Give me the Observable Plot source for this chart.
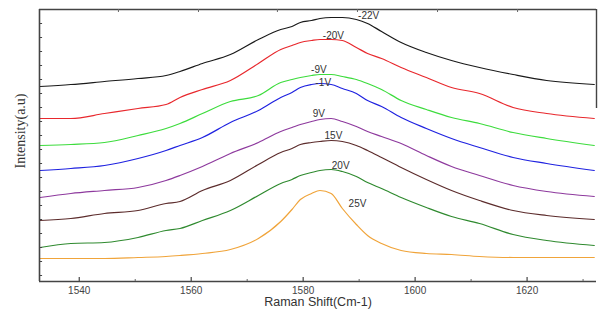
<!DOCTYPE html>
<html>
<head>
<meta charset="utf-8">
<script src="https://cdn.jsdelivr.net/npm/d3@7"></script>
<script src="https://cdn.jsdelivr.net/npm/@observablehq/plot@0.6"></script>
<style>
  html, body { margin: 0; padding: 0; background: #fff; }
  #chart { width: 601px; height: 321px; }
</style>
</head>
<body>
<div id="chart"></div>
<script>
// Raman shift positions (cm-1)
const shift = [1533, 1538.5, 1544.5, 1550.5, 1555.5, 1558, 1562, 1567, 1572, 1576, 1578, 1579.5, 1581.5,
               1583, 1585, 1587, 1589.5, 1591.5, 1594, 1597.5, 1602, 1606.5, 1611.5, 1617.5, 1623.5, 1632];

// Intensities (a.u., offset stack as in the figure)
const vM22 = [195,197,200,203,206,210,218,227,242,252,255,259,261,263,264,264,262,258,250,239,229,221,214,207,201,197];
const vM20 = [163,163,168,173,177,184,192,201,218,232,236,239,241,242,242,241,234,228,223,214,204,194,188,174,168,163];
const vM9  = [136,137,139,146,153,158,168,180,186,199,202,204,206,207,207,205,202,198,192,181,172,164,158,149,143,136];
const vM1  = [111,113,116,123,131,136,144,159,171,184,189,194,197,198,197,193,188,181,175,164,153,143,134,124,118,111];
const vP9  = [84,88,91,94,101,106,115,128,139,150,154,157,160,162,163,160,155,150,145,138,126,115,106,96,90,85];
const vP15 = [61,63,68,71,78,80,91,101,117,129,133,137,139,140,141,140,136,131,124,114,102,91,81,71,66,62];
const vP20 = [34,38,39,44,51,53,61,71,86,98,102,106,109,111,112,110,105,99,93,84,74,65,58,47,41,36];
const vP25 = [23,23,23,24,25,26,28,32,43,60,72,82,88,91,88,73,57,46,38,31,28,27,25,24,24,24];

const seriesNames = ["-22V", "-20V", "-9V", "-1V", "9V", "15V", "20V", "25V"];
const seriesColors = ["#1a1a1a", "#e8282d", "#3ddc3d", "#1f22e0", "#8e3a9e", "#5c2c2c", "#2f8a2f", "#f0a43a"];
const seriesValues = [vM22, vM20, vM9, vM1, vP9, vP15, vP20, vP25];

// Curve label positions
const labelX = [1591.7, 1585.4, 1582.8, 1583.6, 1582.8, 1585.4, 1586.7, 1589.7];
const labelY = [266, 246, 212, 199, 168, 146, 116, 78];

const xMajor = [1540, 1560, 1580, 1600, 1620];
const xMinor = [1550, 1570, 1590, 1610, 1630];
const xTop = [1547, 1561.3, 1575.4, 1589.7, 1604, 1618.3];

const xDomain = [1532.9, 1632.4];
const yDomain = [0, 272];

const rows = [];
seriesNames.forEach((name, i) => {
  seriesValues[i].forEach((v, j) => rows.push({series: name, shift: shift[j], intensity: v}));
});
const labels = seriesNames.map((name, i) => ({series: name, x: labelX[i], y: labelY[i]}));
const yTicks = d3.range(6, 262, 14);

const plot = Plot.plot({
  width: 601,
  height: 321,
  marginLeft: 39,
  marginRight: 5,
  marginTop: 9,
  marginBottom: 40,
  style: {background: "#fff", fontFamily: "'Liberation Sans', Arial, sans-serif"},
  x: {domain: xDomain},
  y: {domain: yDomain, axis: null},
  color: {domain: seriesNames, range: seriesColors},
  marks: [
    Plot.line(rows, {x: "shift", y: "intensity", z: "series", stroke: "series", strokeWidth: 1.2, curve: "monotone-x"}),
    Plot.text(labels, {x: "x", y: "y", text: "series", fontSize: 10, fill: "#333"}),
    // frame lines
    Plot.ruleY([yDomain[0]], {x1: xDomain[0], x2: xDomain[1], stroke: "#444", strokeWidth: 1.6}),
    Plot.ruleX([xDomain[0]], {y1: yDomain[0], y2: yDomain[1], stroke: "#444", strokeWidth: 1.6}),
    Plot.ruleY([yDomain[1]], {x1: xDomain[0], x2: xDomain[1], stroke: "#444", strokeWidth: 1.4}),
    Plot.ruleX([xDomain[1]], {y1: 173, y2: yDomain[1], stroke: "#444", strokeWidth: 1.4}),
    // ticks
    Plot.ruleX(xMajor, {x: d => d, y1: 0, y2: 4, stroke: "#444", strokeWidth: 1.2}),
    Plot.ruleX(xMinor, {x: d => d, y1: 0, y2: 2, stroke: "#666", strokeWidth: 1}),
    Plot.ruleX(xTop, {x: d => d, y1: 272, y2: 269, stroke: "#666", strokeWidth: 1}),
    Plot.ruleY(yTicks, {y: d => d, x1: xDomain[0], x2: xDomain[0] + 0.55, stroke: "#444", strokeWidth: 1}),
    Plot.axisX(xMajor, {tickSize: 0, tickPadding: 5, fontSize: 10, fill: "#444",
      tickFormat: d => String(d), label: null}),
    Plot.text(["Raman Shift(Cm-1)"], {frameAnchor: "bottom", dy: 24, fontSize: 12.5, fill: "#333"}),
    Plot.text(["Intensity(a.u)"], {frameAnchor: "left", y: [113], dx: -19, rotate: -90,
      fontSize: 14, fill: "#333", fontFamily: "'Liberation Serif', 'Times New Roman', serif"})
  ]
});
document.getElementById("chart").append(plot);
</script>
</body>
</html>
